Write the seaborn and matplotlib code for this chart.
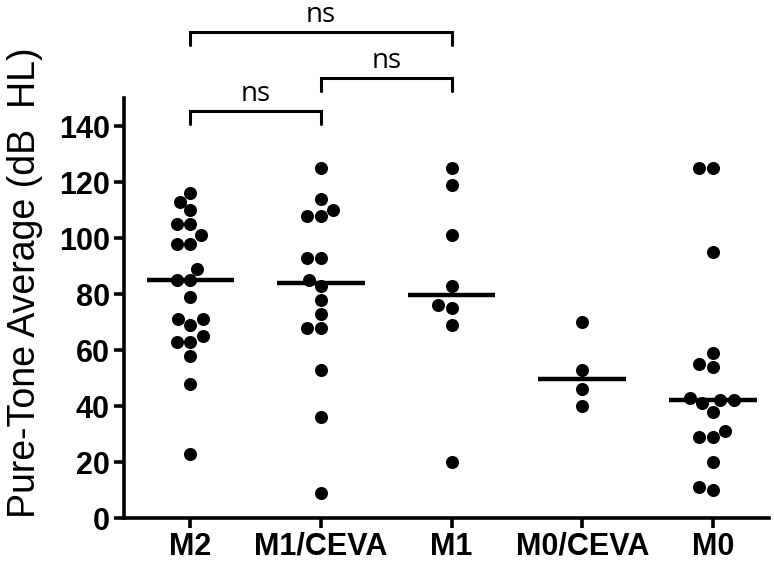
import numpy as np
import pandas as pd
import seaborn as sns
import matplotlib.pyplot as plt

# groups and pure-tone averages (dB HL)
groups = ['M2', 'M1/CEVA', 'M1', 'M0/CEVA', 'M0']
pta_m2 = [116, 113, 110, 105, 105, 101, 98, 98, 89, 85, 85, 79, 71, 71, 69, 65, 63, 63, 58, 48, 23]
pta_m1_ceva = [125, 114, 110, 108, 108, 93, 93, 85, 83, 78, 73, 68, 68, 53, 36, 9]
pta_m1 = [125, 119, 101, 83, 76, 75, 69, 20]
pta_m0_ceva = [70, 53, 46, 40]
pta_m0 = [125, 125, 95, 59, 55, 54, 43, 42, 42, 41, 38, 31, 29, 29, 20, 11, 10]

# comparisons: (group a, group b, label)
comparisons = [('M2', 'M1/CEVA', 'ns'), ('M1/CEVA', 'M1', 'ns'), ('M2', 'M1', 'ns')]
bracket_y = [145.4, 157.1, 173.7]

all_values = [pta_m2, pta_m1_ceva, pta_m1, pta_m0_ceva, pta_m0]
df = pd.DataFrame({
    'group': np.repeat(groups, [len(v) for v in all_values]),
    'pta': np.concatenate(all_values),
})

sns.set_style('ticks', {'axes.edgecolor': 'black', 'text.color': 'black',
                        'axes.labelcolor': 'black', 'xtick.color': 'black', 'ytick.color': 'black'})
plt.rcParams['font.family'] = ['Liberation Sans', 'DejaVu Sans']

fig = plt.figure(figsize=(7.74, 5.65), dpi=100)
ax = fig.add_axes([0.16, 0.083, 0.8335, 0.7435])

sns.swarmplot(data=df, x='group', y='pta', order=groups, color='black', size=9.4, ax=ax)
# median line
sns.boxplot(data=df, x='group', y='pta', order=groups, showbox=False, showcaps=False,
            showfliers=False, whiskerprops={'visible': False}, width=0.67,
            medianprops={'color': 'black', 'lw': 3.2}, ax=ax)

ax.set_ylim(0, 150)
ax.set_xlim(-0.51, 4.43)
ax.set_yticks(np.arange(0, 141, 20))
ax.set_xlabel('')
ax.set_ylabel('Pure-Tone Average (dB  HL)', fontsize=27)
ax.yaxis.set_label_coords(-0.125, 0.56)
sns.despine(ax=ax)
for s in ['left', 'bottom']:
    ax.spines[s].set_linewidth(2.6)
ax.tick_params(axis='both', width=2.6, length=7, labelsize=22, pad=3)
for lab in ax.get_xticklabels() + ax.get_yticklabels():
    lab.set_fontweight('bold')

# significance brackets
for (a, b, txt), y in zip(comparisons, bracket_y):
    x1, x2 = groups.index(a), groups.index(b)
    ax.plot([x1, x1, x2, x2], [y - 4.7, y, y, y - 4.7], color='black', lw=2.2,
            clip_on=False, solid_joinstyle='miter')
    ax.text((x1 + x2) / 2, y + 3.6, txt, ha='center', va='baseline', fontsize=20,
            family=['Open Sans', 'DejaVu Sans'])

fig.savefig('out.png', dpi=100)
